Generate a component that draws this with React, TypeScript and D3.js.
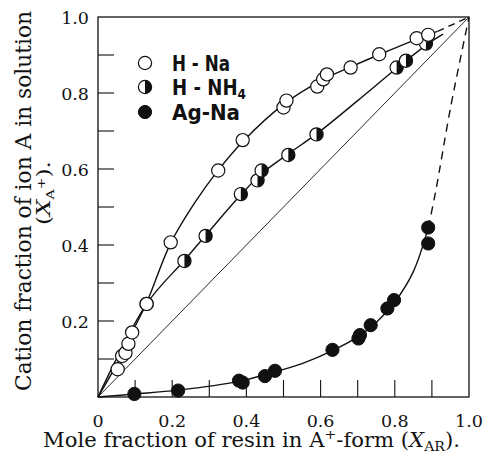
import React from "react";
import * as d3 from "d3";

// ---------- data ----------
const hNaPoints: [number, number][] = [
  [0.053, 0.073], [0.065, 0.108], [0.074, 0.116], [0.082, 0.14], [0.092, 0.17],
  [0.131, 0.245], [0.196, 0.407], [0.324, 0.596], [0.39, 0.676], [0.5, 0.762],
  [0.508, 0.78], [0.591, 0.817], [0.607, 0.836], [0.617, 0.849], [0.681, 0.867],
  [0.758, 0.902], [0.859, 0.944], [0.89, 0.953],
];
const hNH4Points: [number, number][] = [
  [0.131, 0.245], [0.233, 0.358], [0.29, 0.424], [0.385, 0.534], [0.43, 0.57],
  [0.441, 0.596], [0.513, 0.637], [0.589, 0.691], [0.805, 0.867], [0.83, 0.885],
  [0.884, 0.93],
];
const agNaPoints: [number, number][] = [
  [0.098, 0.008], [0.216, 0.017], [0.38, 0.043], [0.39, 0.038], [0.45, 0.055],
  [0.477, 0.069], [0.632, 0.124], [0.702, 0.154], [0.706, 0.163], [0.735, 0.189],
  [0.78, 0.233], [0.798, 0.255], [0.89, 0.404], [0.89, 0.446],
];

// fitted curves drawn in the reference
const hNaCurve: [number, number][] = [
  [0, 0], [0.05, 0.085], [0.092, 0.17], [0.131, 0.248], [0.196, 0.405], [0.26, 0.51],
  [0.324, 0.597], [0.39, 0.672], [0.5, 0.77], [0.6, 0.832], [0.68, 0.868],
  [0.76, 0.902], [0.86, 0.942], [0.915, 0.962],
];
const hNH4Curve: [number, number][] = [
  [0, 0], [0.131, 0.245], [0.233, 0.36], [0.29, 0.425], [0.385, 0.532], [0.44, 0.587],
  [0.513, 0.64], [0.59, 0.693], [0.7, 0.78], [0.805, 0.865], [0.89, 0.93], [0.93, 0.955],
];
const agNaCurve: [number, number][] = [
  [0, 0], [0.1, 0.008], [0.216, 0.018], [0.38, 0.041], [0.45, 0.059], [0.55, 0.088],
  [0.632, 0.122], [0.7, 0.158], [0.75, 0.196], [0.8, 0.25], [0.85, 0.33], [0.89, 0.445],
];
const topDashed: [number, number][] = [[0.915, 0.962], [1, 1]];
const agNaDashed: [number, number][] = [[0.89, 0.445], [0.91, 0.54], [0.95, 0.76], [1, 1]];
const diagonal: [number, number][] = [[0, 0], [1, 1]];

const xTickLabels = ["0", "0.2", "0.4", "0.6", "0.8", "1.0"];
const xTickValues = [0, 0.2, 0.4, 0.6, 0.8, 1.0];
const yTickLabels = ["0.2", "0.4", "0.6", "0.8", "1.0"];
const yTickValues = [0.2, 0.4, 0.6, 0.8, 1.0];
const minorTicks = [0.1, 0.2, 0.3, 0.4, 0.5, 0.6, 0.7, 0.8, 0.9];
const legendLabels = ["H - Na", "H - NH", "Ag-Na"];

// ---------- layout ----------
const W = 486;
const H = 457;
const left = 98;
const right = 469;
const top = 17;
const bottom = 397;
const R = 6.6;

export default function App() {
  const x = d3.scaleLinear().domain([0, 1]).range([left, right]);
  const y = d3.scaleLinear().domain([0, 1]).range([bottom, top]);
  const smooth = d3
    .line<[number, number]>()
    .x((d) => x(d[0]))
    .y((d) => y(d[1]))
    .curve(d3.curveCatmullRom.alpha(0.5));
  const straight = d3
    .line<[number, number]>()
    .x((d) => x(d[0]))
    .y((d) => y(d[1]));
  const rightHalf = d3.arc()({
    innerRadius: 0,
    outerRadius: R,
    startAngle: 0,
    endAngle: Math.PI,
  }) as string;

  const serif = "'DejaVu Serif', 'Liberation Serif', serif";
  const sans = "'DejaVu Sans', sans-serif";

  const openMarker = (cx: number, cy: number, k: string) => (
    <circle key={k} cx={cx} cy={cy} r={R} fill="#fff" stroke="#111" strokeWidth={1.2} />
  );
  const halfMarker = (cx: number, cy: number, k: string) => (
    <g key={k} transform={`translate(${cx},${cy})`}>
      <circle r={R} fill="#fff" stroke="#111" strokeWidth={1.2} />
      <path d={rightHalf} fill="#111" />
    </g>
  );
  const fullMarker = (cx: number, cy: number, k: string) => (
    <circle key={k} cx={cx} cy={cy} r={R} fill="#111" stroke="#111" strokeWidth={1} />
  );

  return (
    <svg
      width={W}
      height={H}
      style={{ position: "absolute", left: 0, top: 0, background: "#fff" }}
    >
      <rect width={W} height={H} fill="#fff" />
      {/* frame */}
      <rect
        x={left}
        y={top}
        width={right - left}
        height={bottom - top}
        fill="none"
        stroke="#111"
        strokeWidth={1.3}
      />
      {/* ticks */}
      {minorTicks.map((t) => (
        <line key={"xt" + t} x1={x(t)} x2={x(t)} y1={bottom} y2={bottom - 17} stroke="#111" strokeWidth={1.1} />
      ))}
      {minorTicks.map((t) => (
        <line key={"yt" + t} x1={left} x2={left + 16} y1={y(t)} y2={y(t)} stroke="#111" strokeWidth={1.1} />
      ))}
      {/* tick labels */}
      {xTickValues.map((t, i) => (
        <text key={"xl" + t} x={x(t)} y={427} textAnchor="middle" fontFamily={serif} fontSize={17.5} fill="#111">
          {xTickLabels[i]}
        </text>
      ))}
      {yTickValues.map((t, i) => (
        <text key={"yl" + t} x={89} y={y(t) + 6.5} textAnchor="end" fontFamily={serif} fontSize={17.5} fill="#111">
          {yTickLabels[i]}
        </text>
      ))}
      {/* axis titles */}
      <text
        x={43}
        y={447}
        fontFamily={serif}
        fontSize={19.5}
        fill="#111"
        textLength={417}
        lengthAdjust="spacingAndGlyphs"
      >
        Mole fraction of resin in A<tspan dy={-8} fontSize={13}>+</tspan>
        <tspan dy={8}>-form (</tspan>
        <tspan fontStyle="italic">X</tspan>
        <tspan dy={4} fontSize={13}>AR</tspan>
        <tspan dy={-4}>).</tspan>
      </text>
      <text
        transform="translate(31,201) rotate(-90)"
        textAnchor="middle"
        fontFamily={serif}
        fontSize={23}
        fill="#111"
        textLength={380}
        lengthAdjust="spacingAndGlyphs"
      >
        Cation fraction of ion A in solution
      </text>
      <text
        transform="translate(50,193) rotate(-90)"
        textAnchor="middle"
        fontFamily={serif}
        fontSize={18}
        fill="#111"
        textLength={64}
        lengthAdjust="spacingAndGlyphs"
      >
        (<tspan fontStyle="italic">X</tspan>
        <tspan dy={4} fontSize={11}>A</tspan>
        <tspan dy={-9} fontSize={11}>+</tspan>
        <tspan dy={5}>).</tspan>
      </text>

      {/* lines */}
      <path d={straight(diagonal) as string} fill="none" stroke="#111" strokeWidth={0.9} />
      <path d={smooth(hNaCurve) as string} fill="none" stroke="#111" strokeWidth={1.4} />
      <path d={smooth(hNH4Curve) as string} fill="none" stroke="#111" strokeWidth={1.4} />
      <path d={smooth(agNaCurve) as string} fill="none" stroke="#111" strokeWidth={1.4} />
      <path d={straight(topDashed) as string} fill="none" stroke="#111" strokeWidth={1.4} strokeDasharray="7 5" />
      <path d={smooth(agNaDashed) as string} fill="none" stroke="#111" strokeWidth={1.4} strokeDasharray="8 6" />

      {/* markers */}
      {agNaPoints.map((d, i) => fullMarker(x(d[0]), y(d[1]), "a" + i))}
      {hNH4Points.map((d, i) => halfMarker(x(d[0]), y(d[1]), "h" + i))}
      {hNaPoints.map((d, i) => openMarker(x(d[0]), y(d[1]), "o" + i))}

      {/* legend */}
      {openMarker(145, 63, "lg0")}
      {halfMarker(145, 87, "lg1")}
      {fullMarker(145, 112, "lg2")}
      <text x={172} y={71} fontFamily={sans} fontWeight="bold" fontSize={21} fill="#111"
        textLength={58} lengthAdjust="spacingAndGlyphs">
        {legendLabels[0]}
      </text>
      <text x={172} y={95} fontFamily={sans} fontWeight="bold" fontSize={21} fill="#111"
        textLength={74} lengthAdjust="spacingAndGlyphs">
        {legendLabels[1]}
        <tspan dy={4} fontSize={14}>4</tspan>
      </text>
      <text x={172} y={120} fontFamily={sans} fontWeight="bold" fontSize={21} fill="#111"
        textLength={68} lengthAdjust="spacingAndGlyphs">
        {legendLabels[2]}
      </text>
    </svg>
  );
}
